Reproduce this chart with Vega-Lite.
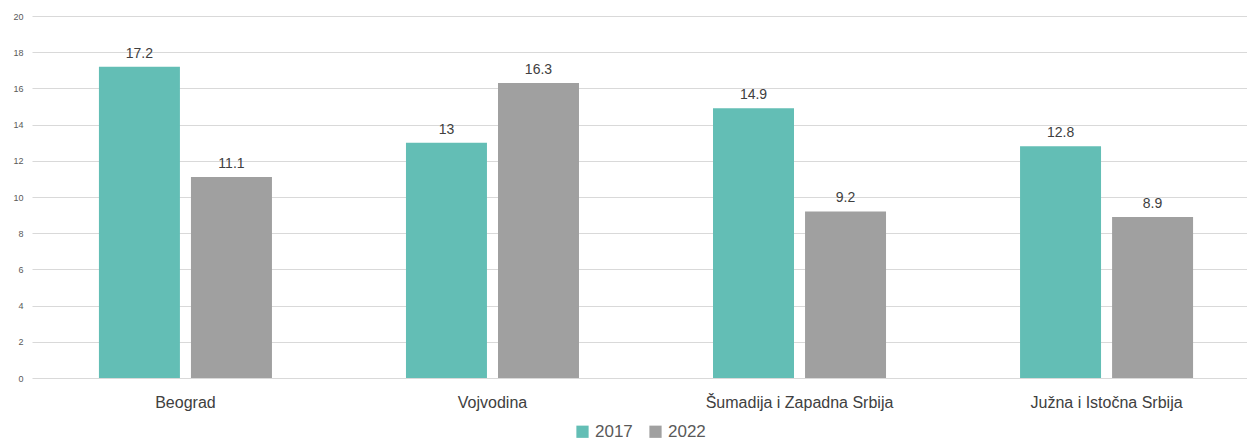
{
  "$schema": "https://vega.github.io/schema/vega-lite/v6.json",
  "width": 1228,
  "height": 362,
  "autosize": {"type": "none"},
  "padding": {"left": 32, "top": 16, "right": 0, "bottom": 63},
  "background": "white",
  "config": {
    "view": {"stroke": null},
    "font": "Liberation Sans"
  },
  "data": {
    "values": [
      {"region": "Beograd", "year": "2017", "value": 17.2},
      {"region": "Beograd", "year": "2022", "value": 11.1},
      {"region": "Vojvodina", "year": "2017", "value": 13},
      {"region": "Vojvodina", "year": "2022", "value": 16.3},
      {"region": "Šumadija i Zapadna Srbija", "year": "2017", "value": 14.9},
      {"region": "Šumadija i Zapadna Srbija", "year": "2022", "value": 9.2},
      {"region": "Južna i Istočna Srbija", "year": "2017", "value": 12.8},
      {"region": "Južna i Istočna Srbija", "year": "2022", "value": 8.9}
    ]
  },
  "encoding": {
    "x": {
      "field": "region", "type": "nominal", "sort": null,
      "scale": {"paddingInner": 0.4365, "paddingOuter": 0.218},
      "axis": {"title": null, "labelAngle": 0, "domain": false, "ticks": false, "labelFontSize": 16, "labelLimit": 400, "labelColor": "#404040", "labelPadding": 16}
    },
    "xOffset": {"field": "year", "type": "nominal", "scale": {"paddingInner": 0.12, "paddingOuter": 0}},
    "y": {
      "field": "value", "type": "quantitative",
      "scale": {"domain": [0, 20], "nice": false},
      "axis": {"title": null, "values": [0,2,4,6,8,10,12,14,16,18,20], "domain": false, "ticks": false, "labelFontSize": 9, "labelColor": "#595959", "labelPadding": 9, "gridColor": "#d9d9d9", "gridWidth": 1}
    }
  },
  "layer": [
    {
      "mark": {"type": "bar"},
      "encoding": {
        "color": {
          "field": "year", "type": "nominal",
          "scale": {"domain": ["2017", "2022"], "range": ["#63BEB5", "#A0A0A0"]},
          "legend": {"title": null, "orient": "none", "direction": "horizontal", "legendX": 542, "legendY": 407, "symbolType": "square", "symbolSize": 150, "symbolStrokeWidth": 0, "labelFontSize": 17, "labelColor": "#595959", "columnPadding": 14, "labelOffset": 4}
        }
      }
    },
    {
      "mark": {"type": "text", "baseline": "bottom", "dy": -6, "fontSize": 14, "color": "#404040"},
      "encoding": {"text": {"field": "value", "type": "quantitative"}}
    }
  ]
}
